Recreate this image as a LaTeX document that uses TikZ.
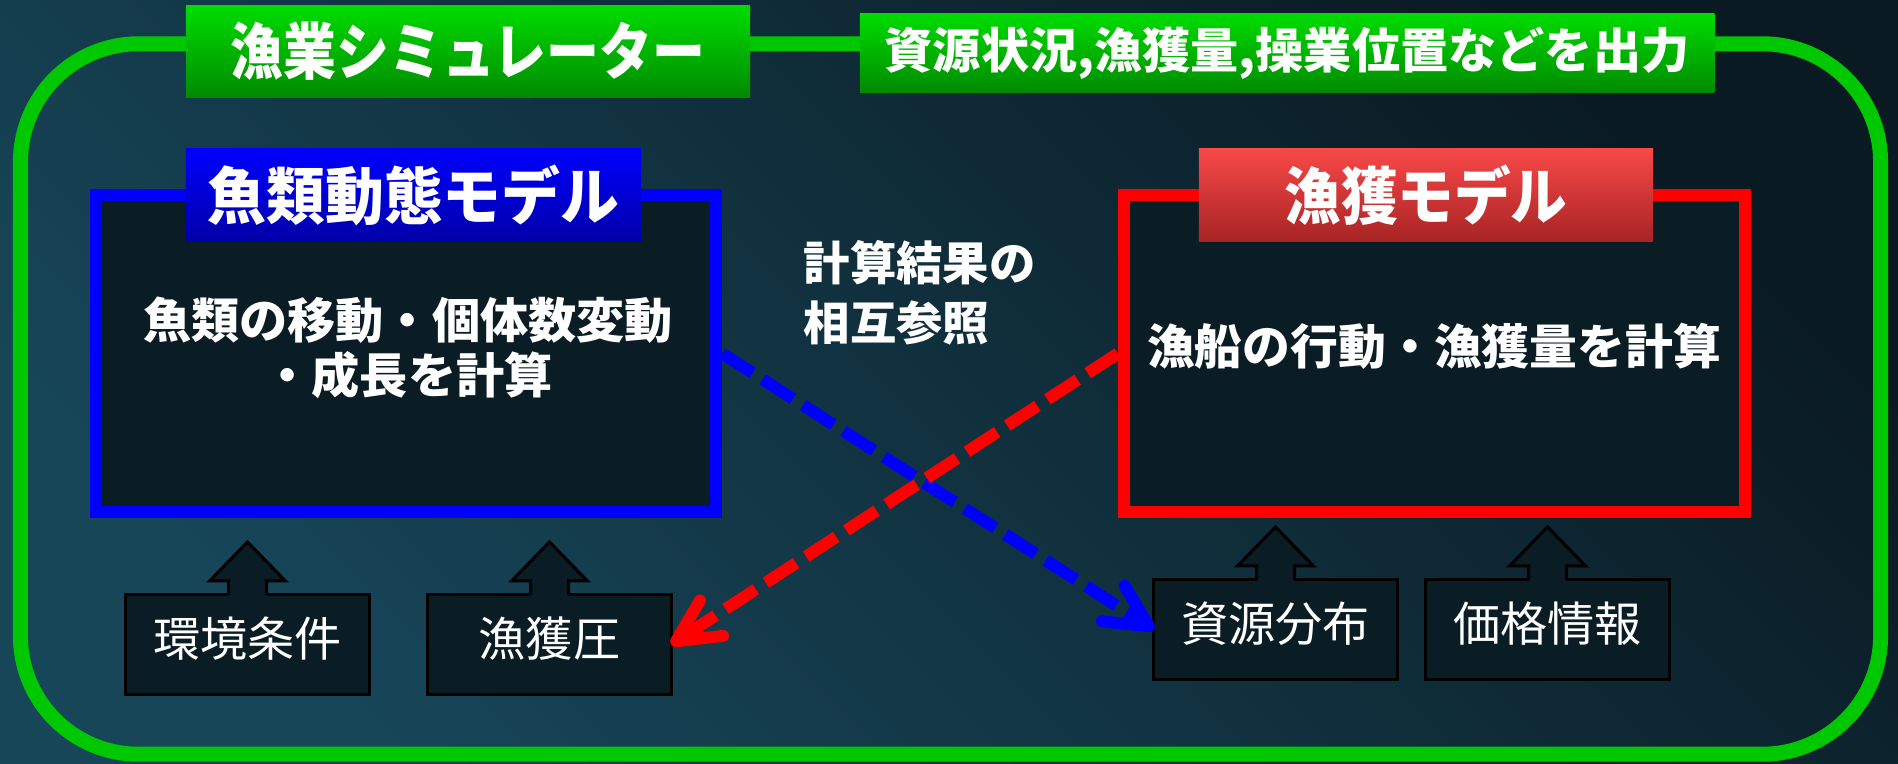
\documentclass[tikz,border=0pt]{standalone}
\usepackage{fontspec}
\usepackage{graphicx}
\newfontfamily\jp{Noto Sans CJK JP}
\usetikzlibrary{arrows.meta}
\definecolor{bgL}{HTML}{174659}
\definecolor{bgD}{HTML}{0A1A22}
\definecolor{gOut}{HTML}{00C800}
\definecolor{gTop}{HTML}{00DC00}
\definecolor{gBot}{HTML}{008A00}
\definecolor{bTop}{HTML}{0000FF}
\definecolor{bBot}{HTML}{0000A8}
\definecolor{rTop}{HTML}{F84848}
\definecolor{rBot}{HTML}{A82424}
\definecolor{innerbg}{HTML}{0A1C24}
\newcommand\sqz[3]{\scalebox{#2}[1]{\fontsize{#1}{#1}\selectfont #3}}
\begin{document}
\begin{tikzpicture}[x=0.01cm, y=-0.01cm,
  outerframe/.style={draw=gOut, line width=4.27pt, rounded corners=1.18cm,
    minimum width=18.59cm, minimum height=7.10cm, inner sep=0pt},
  headbox/.style={top color=gTop, bottom color=gBot, inner sep=0pt,
    text=white, font=\jp\bfseries},
  labbox/.style={inner sep=0pt, minimum width=4.55cm, minimum height=0.92cm,
    text=white, font=\jp\bfseries},
  frame/.style={draw=#1, line width=3.41pt, fill=innerbg, minimum width=6.2cm,
    minimum height=3.17cm, inner sep=0pt},
  bodytext/.style={text=white, inner sep=0pt, font=\jp\bfseries\fontsize{13.7pt}{15.6pt}\selectfont},
  inbox/.style={draw=black, line width=0.85pt, fill=innerbg, outer sep=0pt,
    minimum width=2.43cm, minimum height=0.99cm, inner sep=0pt, text=white,
    font=\jp\fontsize{13.4pt}{13.4pt}\selectfont, text height=11.8pt, text depth=5pt},
  boxline/.style={draw=black, line width=0.85pt, line join=miter},
  dasharrow/.style={draw=#1, line width=3.41pt, dash pattern=on 10.24pt off 3.41pt,
    -{Straight Barb[length=12pt, width=12pt, round]}}
]
\useasboundingbox (0,0) rectangle (1898,763);
\shade[bottom color=bgL, top color=bgD, shading angle=-45] (0,0) rectangle (1898,763);

\node[outerframe] (sim) at (950.5,399) {};
\node[headbox, minimum width=5.64cm, minimum height=0.91cm] (title) at (468,51.5)
  {\sqz{17.5pt}{0.86}{漁業シミュレーター}};
\node[headbox, minimum width=8.54cm, minimum height=0.78cm] (out) at (1287,53)
  {\sqz{13.7pt}{1.0}{資源状況,漁獲量,操業位置などを出力}};

\node[frame=blue] (fish) at (406,353.5) {};
\node[frame=red, minimum width=6.21cm] (catch) at (1434.5,353.5) {};
\node[labbox, top color=bTop, bottom color=bBot] (fishlab) at (413.5,195)
  {\sqz{17.7pt}{0.945}{魚類動態モデル}};
\node[labbox, minimum width=4.54cm, top color=rTop, bottom color=rBot] (catchlab) at (1426,195)
  {\sqz{17.7pt}{0.91}{漁獲モデル}};

\node[bodytext, align=center] (fishtxt) at (408,347.5) {魚類の移動・個体数変動\\・成長を計算};
\node[bodytext] (catchtxt) at (1434,346) {\fontsize{13.6pt}{13.6pt}\selectfont 漁船の行動・漁獲量を計算};
\node[bodytext, align=left, anchor=west, font=\jp\bfseries\fontsize{13.2pt}{17.1pt}\selectfont] (ref) at (803,293) {計算結果の\\相互参照};

\node[inbox] (env) at (247.5,644.5) {環境条件};
\node[inbox] (press) at (549.5,644.5) {漁獲圧};
\node[inbox] (res) at (1275.5,629.5) {資源分布};
\node[inbox] (price) at (1547.5,629.5) {価格情報};
\foreach \n in {env,press,res,price}{
  \fill[innerbg, shift={(\n.north)}] (-19,3) -- (-19,-14) -- (-38,-14) -- (0,-53)
    -- (38,-14) -- (19,-14) -- (19,3) -- cycle;
  \draw[boxline, shift={(\n.north)}] (-19,0) -- (-19,-14) -- (-38,-14) -- (0,-53)
    -- (38,-14) -- (19,-14) -- (19,0);
}

\draw[dasharrow=blue] (fish.east) -- (res.west);
\draw[dasharrow=red] (catch.west) -- (press.east);
\end{tikzpicture}
\end{document}
